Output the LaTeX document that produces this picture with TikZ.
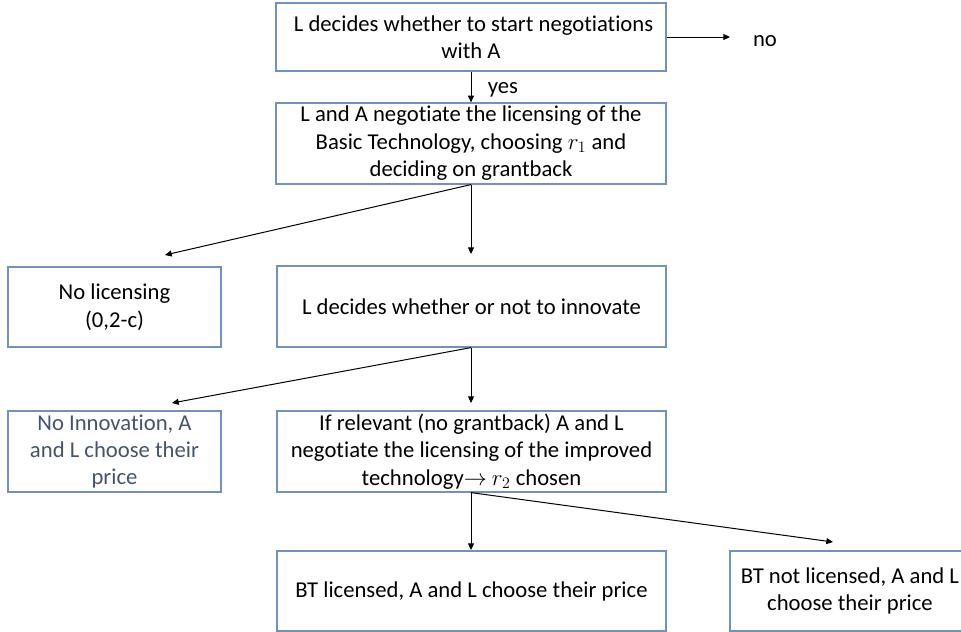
\documentclass[tikz,border=0pt]{standalone}
\usepackage{fontspec}
\setmainfont{Carlito}[RawFeature={-liga}]
\usetikzlibrary{arrows.meta}
\definecolor{boxline}{RGB}{112,146,192}
\definecolor{slate}{RGB}{68,84,106}
\begin{document}
\begin{tikzpicture}[x=0.75pt,y=-0.75pt,
  every node/.style={font=\fontsize{17}{20.6}\selectfont, inner sep=0pt},
  stage/.style={draw=boxline, line width=0.9pt, align=center},
  wide/.style={minimum width=291.75pt},
  narrow/.style={minimum width=159.75pt},
  tall/.style={minimum height=60.75pt},
  arr/.style={-{Triangle[length=5pt,width=4.5pt]}, line width=0.75pt, black}]
  \clip (0,0) rectangle (961,632);

  % stages of the game
  \node[stage, minimum width=292.5pt, minimum height=51pt] (start) at (471,37)
    {\ L decides whether to start negotiations\\with A};
  \node[stage, minimum width=292.5pt, tall] (basic) at (471,143.5)
    {L and A negotiate the licensing of the\\Basic Technology, choosing $r_1$ and\\deciding on grantback};
  \node[stage, narrow, minimum height=60pt] (nolic) at (114.5,307)
    {No licensing\\(0,2-c)};
  \node[stage, wide, tall] (innov) at (471.5,306.5)
    {L decides whether or not to innovate};
  \node[stage, narrow, tall, text=slate] (noinnov) at (114.5,451.5)
    {No Innovation, A\\and L choose their\\price};
  \node[stage, wide, tall] (improved) at (471.5,451.5)
    {If relevant (no grantback) A and L\\negotiate the licensing of the improved\\technology$\rightarrow$\ $r_2$ chosen};
  \node[stage, wide, minimum height=60pt] (btlic) at (471.5,591)
    {BT licensed, A and L choose their price};
  \node[stage, minimum width=180pt, minimum height=60pt] (btnot) at (850,591)
    {BT not licensed, A and L\\choose their price};

  % branch labels
  \node (no) at (765,41) {no};
  \node (yes) at (503,90) {yes};

  % free arrow ends
  \coordinate (noTip) at (730,37);
  \coordinate (nolicTip) at (165,255);
  \coordinate (innovTip) at (471,254);
  \coordinate (noinnovTip) at (172,403);
  \coordinate (improvedTip) at (471,403);
  \coordinate (btlicTip) at (471,550);
  \coordinate (btnotTip) at (833,542);

  % decisions
  \draw[arr] (start.south) -- (basic.north);
  \draw[arr] (start.east) -- (noTip);
  \draw[arr] (basic.south) -- (nolicTip);
  \draw[arr] (basic.south) -- (innovTip);
  \draw[arr] (innov.south -| basic.south) -- (noinnovTip);
  \draw[arr] (innov.south -| basic.south) -- (improvedTip);
  \draw[arr] (improved.south -| basic.south) -- (btlicTip);
  \draw[arr] (improved.south -| basic.south) -- (btnotTip);
\end{tikzpicture}
\end{document}
